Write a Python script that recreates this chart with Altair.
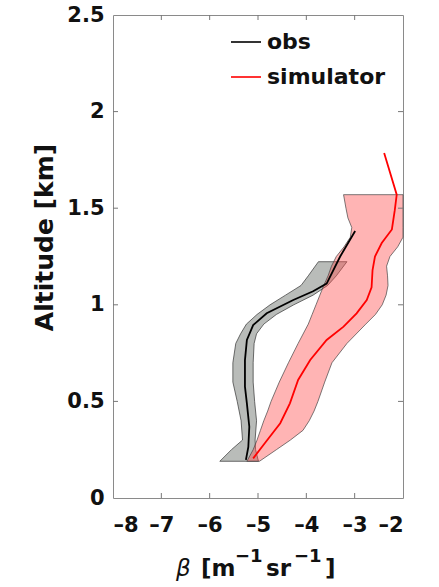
import altair as alt
import pandas as pd

# ---- data ----
obs_band_alt = [0.19, 0.25, 0.30, 0.40, 0.50, 0.60, 0.70, 0.80, 0.85, 0.90, 0.95, 1.00, 1.05, 1.10, 1.15, 1.223]
obs_band_left = [-5.79, -5.55, -5.32, -5.35, -5.43, -5.52, -5.52, -5.46, -5.36, -5.24, -5.02, -4.75, -4.43, -4.11, -3.96, -3.75]
obs_band_right = [-4.99, -5.05, -5.06, -5.03, -5.07, -5.10, -5.10, -5.08, -5.03, -4.88, -4.62, -4.26, -3.86, -3.56, -3.38, -3.16]

sim_band_alt = [0.19, 0.25, 0.30, 0.35, 0.40, 0.45, 0.50, 0.60, 0.70, 0.80, 0.90, 0.95, 1.00, 1.05,
                1.10, 1.15, 1.20, 1.25, 1.30, 1.35, 1.40, 1.45, 1.50, 1.57]
sim_band_left = [-5.23, -5.10, -5.02, -4.95, -4.88, -4.80, -4.73, -4.56, -4.37, -4.17, -3.96, -3.88, -3.80, -3.72,
                 -3.64, -3.55, -3.48, -3.38, -3.22, -3.09, -3.06, -3.14, -3.18, -3.23]
sim_band_right = [-4.97, -4.62, -4.33, -4.07, -3.94, -3.84, -3.76, -3.62, -3.47, -3.16, -2.77, -2.57, -2.43, -2.35,
                  -2.31, -2.32, -2.34, -2.27, -2.11, -2.00, -2.00, -2.00, -2.00, -2.00]

obs_alt = [0.197, 0.265, 0.369, 0.49, 0.576, 0.714, 0.818, 0.895, 0.956, 1.025, 1.07, 1.11, 1.25, 1.382]
obs_beta = [-5.25, -5.20, -5.18, -5.23, -5.27, -5.27, -5.23, -5.10, -4.82, -4.27, -3.86, -3.58, -3.30, -2.99]

sim_alt = [0.205, 0.283, 0.387, 0.49, 0.611, 0.714, 0.818, 0.887, 0.956, 1.025, 1.09, 1.18, 1.25, 1.32,
           1.39, 1.49, 1.57, 1.786]
sim_beta = [-5.10, -4.86, -4.54, -4.34, -4.17, -3.92, -3.58, -3.23, -2.96, -2.75, -2.65, -2.63, -2.58, -2.44,
            -2.23, -2.17, -2.13, -2.39]

series_names = ["obs", "simulator"]
series_colors = ["#000000", "#ff0000"]

x_ticks = [-8, -7, -6, -5, -4, -3, -2]
y_ticks = [0, 0.5, 1, 1.5, 2, 2.5]

# x-axis title pieces: beta [m^-1 sr^-1]
x_title_parts = ["β", "[m", "−1", "sr", "−1", "]"]
y_title = "Altitude [km]"

# ---- tables ----
obs_band = pd.DataFrame({"alt": obs_band_alt, "lo": obs_band_left, "hi": obs_band_right})
sim_band = pd.DataFrame({"alt": sim_band_alt, "lo": sim_band_left, "hi": sim_band_right})
lines = pd.concat([
    pd.DataFrame({"alt": obs_alt, "beta": obs_beta, "series": "obs", "idx": range(len(obs_alt))}),
    pd.DataFrame({"alt": sim_alt, "beta": sim_beta, "series": "simulator", "idx": range(len(sim_alt))}),
])
xt = pd.DataFrame({"v": x_ticks[1:-1]})
yt = pd.DataFrame({"v": y_ticks[1:-1]})

FONT = "DejaVu Sans"
TXT = "#111111"
W, H = 290, 483

xscale = alt.Scale(domain=[-8, -2], nice=False, zero=False)
yscale = alt.Scale(domain=[0, 2.5], nice=False, zero=False)

xaxis = alt.Axis(values=x_ticks, title=None, labelFontSize=21, labelFontWeight="bold",
                 labelFont=FONT, labelColor=TXT, labelPadding=16,
                 labelExpr="datum.value < 0 ? '–' + abs(datum.value) : datum.label",
                 ticks=False, domain=False, grid=False)
yaxis = alt.Axis(values=y_ticks, format="~g", title=y_title, labelFontSize=21,
                 labelFontWeight="bold", labelFont=FONT, labelColor=TXT, titleFont=FONT,
                 titleFontSize=25, titleFontWeight="bold", titleColor=TXT, labelPadding=9,
                 titlePadding=9, titleY=222, ticks=False, domain=False, grid=False)

gray_band = alt.Chart(obs_band).mark_area(
    orient="horizontal", fill="#7f8580", fillOpacity=0.55, stroke="#333333", strokeWidth=0.7
).encode(
    y=alt.Y("alt:Q", scale=yscale, axis=yaxis),
    x=alt.X("lo:Q", scale=xscale, axis=xaxis),
    x2="hi:Q",
)

pink_band = alt.Chart(sim_band).mark_area(
    orient="horizontal", fill="#ff4d4d", fillOpacity=0.42, stroke="#444444", strokeWidth=0.7
).encode(
    y=alt.Y("alt:Q", scale=yscale),
    x=alt.X("lo:Q", scale=xscale),
    x2="hi:Q",
)

line_layer = alt.Chart(lines).mark_line(strokeWidth=1.8).encode(
    x=alt.X("beta:Q", scale=xscale),
    y=alt.Y("alt:Q", scale=yscale),
    order=alt.Order("idx:Q"),
    color=alt.Color("series:N", scale=alt.Scale(domain=series_names, range=series_colors),
                    legend=alt.Legend(title=None, orient="none", legendX=117, legendY=11,
                                      symbolType="stroke", symbolSize=900, symbolStrokeWidth=1.6,
                                      labelFont=FONT, labelFontSize=22, labelFontWeight="bold",
                                      labelColor=TXT, rowPadding=8, labelOffset=5)),
)

tick_col = "#777777"
bottom_ticks = alt.Chart(xt).mark_rule(color=tick_col, strokeWidth=1).encode(
    x=alt.X("v:Q", scale=xscale), y=alt.value(H), y2=alt.value(H - 5))
top_ticks = alt.Chart(xt).mark_rule(color=tick_col, strokeWidth=1).encode(
    x=alt.X("v:Q", scale=xscale), y=alt.value(0), y2=alt.value(5))
left_ticks = alt.Chart(yt).mark_rule(color=tick_col, strokeWidth=1).encode(
    y=alt.Y("v:Q", scale=yscale), x=alt.value(0), x2=alt.value(5))
right_ticks = alt.Chart(yt).mark_rule(color=tick_col, strokeWidth=1).encode(
    y=alt.Y("v:Q", scale=yscale), x=alt.value(W), x2=alt.value(W - 5))

# x-axis title built from pieces (superscripts raised)
title_specs = [
    # (text index, x, y, size, weight, style)
    (0, 63, 561, 23, "normal", "italic"),
    (1, 88, 561, 23, "bold", "normal"),
    (2, 122, 547, 18, "bold", "normal"),
    (3, 153, 561, 23, "bold", "normal"),
    (4, 181, 547, 18, "bold", "normal"),
    (5, 212, 561, 23, "bold", "normal"),
]
title_layers = []
for i, tx, ty, fs, fw, st in title_specs:
    title_layers.append(
        alt.Chart(pd.DataFrame({"t": [x_title_parts[i]]})).mark_text(
            align="left", baseline="alphabetic", font=FONT, fontSize=fs, fontWeight=fw,
            fontStyle=st, color=TXT
        ).encode(text="t:N", x=alt.value(tx), y=alt.value(ty))
    )

chart = alt.layer(
    gray_band, pink_band, line_layer, bottom_ticks, top_ticks, left_ticks, right_ticks,
    *title_layers
).properties(
    width=W, height=H,
    autosize=alt.AutoSizeParams(type="none"),
    padding={"left": 113, "top": 15, "right": 36, "bottom": 89},
    background="white",
).configure_view(stroke="#8a8a8a", strokeWidth=1)

chart.save("out.html", embed_options={"renderer": "svg", "actions": False})
